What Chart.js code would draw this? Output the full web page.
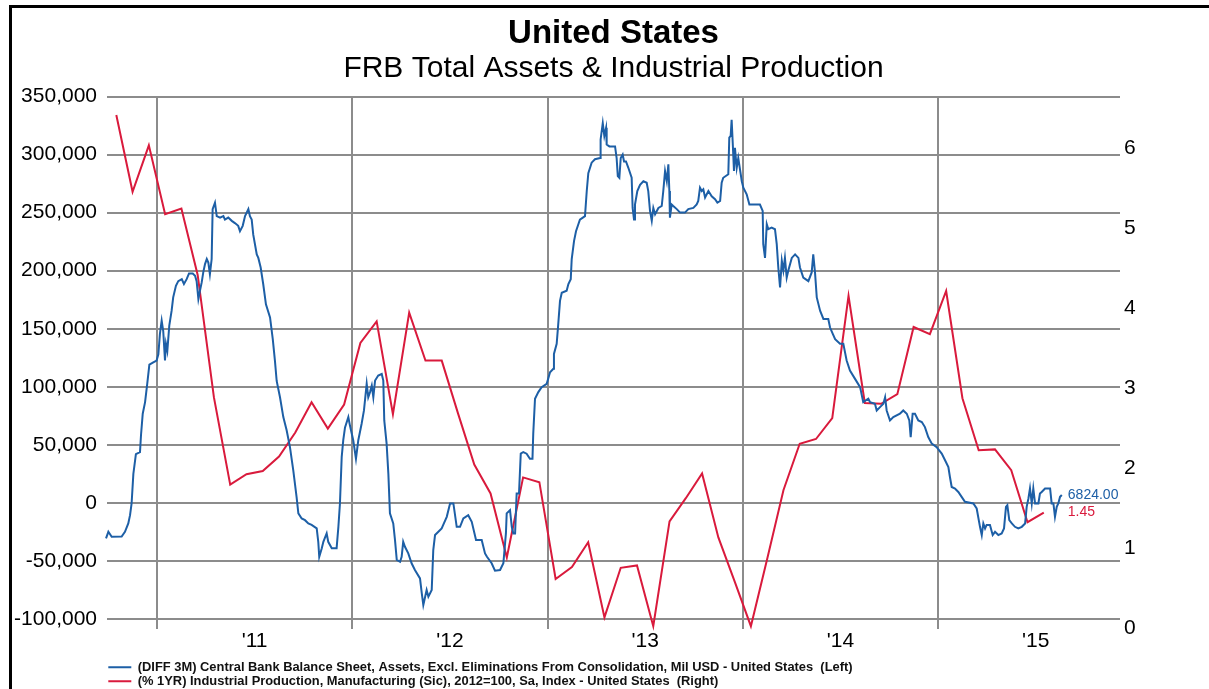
<!DOCTYPE html>
<html>
<head>
<meta charset="utf-8">
<script src="https://cdn.jsdelivr.net/npm/chart.js@4.4.1/dist/chart.umd.min.js"></script>
<style>
  html, body { margin: 0; padding: 0; background: #ffffff; }
  #wrap { position: relative; width: 1209px; height: 689px; overflow: hidden; }
  #c { position: absolute; left: 0; top: 0; }
  #frame { position: absolute; left: 9px; top: 5px; width: 1200px; height: 684px;
           border-left: 3px solid #000; border-top: 3px solid #000; pointer-events: none; }
</style>
</head>
<body>
<div id="wrap">
  <canvas id="c" width="1209" height="689"></canvas>
  <div id="frame"></div>
</div>
<script>
// ---------------- DATA ----------------
const titleText = 'United States';
const subtitleText = 'FRB Total Assets & Industrial Production';

const blueLabel = '(DIFF 3M) Central Bank Balance Sheet, Assets, Excl. Eliminations From Consolidation, Mil USD - United States  (Left)';
const redLabel = '(% 1YR) Industrial Production, Manufacturing (Sic), 2012=100, Sa, Index - United States  (Right)';

// weekly Fed balance sheet 3M change (decimal-year dates, USD mil)
const blueDates = [
2010.739,2010.751,2010.768,2010.819,2010.836,2010.853,2010.862,2010.870,2010.879,2010.892,
2010.913,2010.918,2010.927,2010.939,2010.950,2010.961,2010.981,2010.998,2011.007,2011.015,
2011.024,2011.032,2011.041,2011.046,2011.053,2011.063,2011.075,2011.083,2011.097,2011.109,
2011.127,2011.138,2011.152,2011.164,2011.183,2011.195,2011.203,2011.212,2011.220,2011.229,
2011.237,2011.246,2011.255,2011.263,2011.271,2011.280,2011.285,2011.297,2011.306,2011.323,
2011.340,2011.348,2011.365,2011.383,2011.399,2011.416,2011.425,2011.439,2011.451,2011.468,
2011.476,2011.485,2011.493,2011.511,2011.519,2011.531,2011.544,2011.558,2011.579,2011.593,
2011.604,2011.613,2011.630,2011.647,2011.664,2011.681,2011.698,2011.715,2011.724,2011.741,
2011.758,2011.775,2011.792,2011.818,2011.826,2011.831,2011.844,2011.852,2011.869,2011.877,
2011.895,2011.920,2011.929,2011.937,2011.946,2011.954,2011.963,2011.980,2011.988,2012.005,
2012.019,2012.031,2012.048,2012.060,2012.074,2012.082,2012.091,2012.100,2012.108,2012.117,
2012.133,2012.151,2012.159,2012.164,2012.176,2012.185,2012.193,2012.210,2012.219,2012.228,
2012.245,2012.253,2012.261,2012.270,2012.287,2012.304,2012.321,2012.347,2012.356,2012.364,
2012.381,2012.390,2012.407,2012.415,2012.424,2012.441,2012.458,2012.466,2012.484,2012.501,
2012.518,2012.535,2012.552,2012.569,2012.594,2012.612,2012.634,2012.663,2012.680,2012.690,
2012.714,2012.731,2012.757,2012.774,2012.787,2012.791,2012.808,2012.817,2012.825,2012.834,
2012.842,2012.854,2012.863,2012.876,2012.893,2012.910,2012.923,2012.927,2012.936,2012.953,
2012.970,2012.996,2013.013,2013.030,2013.033,2013.047,2013.055,2013.064,2013.073,2013.098,
2013.107,2013.119,2013.124,2013.136,2013.146,2013.158,2013.166,2013.192,2013.201,2013.209,
2013.226,2013.243,2013.269,2013.272,2013.283,2013.291,2013.300,2013.303,2013.317,2013.346,
2013.354,2013.360,2013.368,2013.375,2013.385,2013.392,2013.402,2013.414,2013.431,2013.436,
2013.443,2013.448,2013.460,2013.474,2013.491,2013.508,2013.516,2013.525,2013.534,2013.542,
2013.551,2013.568,2013.585,2013.593,2013.602,2013.611,2013.619,2013.624,2013.627,2013.636,
2013.644,2013.662,2013.679,2013.704,2013.721,2013.747,2013.764,2013.772,2013.781,2013.790,
2013.798,2013.807,2013.824,2013.841,2013.858,2013.870,2013.884,2013.892,2013.900,2013.926,
2013.931,2013.938,2013.943,2013.949,2013.955,2013.960,2013.969,2013.977,2013.986,2013.995,
2014.003,2014.020,2014.034,2014.088,2014.102,2014.105,2014.114,2014.123,2014.131,2014.148,
2014.165,2014.174,2014.182,2014.191,2014.200,2014.208,2014.216,2014.225,2014.233,2014.251,
2014.268,2014.285,2014.293,2014.310,2014.336,2014.353,2014.361,2014.370,2014.379,2014.396,
2014.413,2014.438,2014.447,2014.461,2014.473,2014.498,2014.515,2014.532,2014.549,2014.575,
2014.601,2014.617,2014.643,2014.652,2014.677,2014.686,2014.703,2014.720,2014.729,2014.737,
2014.754,2014.771,2014.805,2014.822,2014.840,2014.853,2014.860,2014.870,2014.882,2014.899,
2014.917,2014.933,2014.950,2014.968,2014.993,2015.019,2015.036,2015.053,2015.061,2015.070,
2015.087,2015.104,2015.121,2015.138,2015.181,2015.198,2015.215,2015.224,2015.232,2015.241,
2015.249,2015.266,2015.280,2015.292,2015.309,2015.326,2015.338,2015.348,2015.355,2015.365,
2015.378,2015.394,2015.411,2015.429,2015.446,2015.454,2015.463,2015.471,2015.480,2015.488,
2015.497,2015.514,2015.522,2015.531,2015.548,2015.574,2015.582,2015.591,2015.599,2015.608,
2015.616,2015.625,2015.634
];
const blueValues = [
-30600,-24900,-29200,-29000,-24900,-17700,-10600,-500,25000,42000,
43800,58000,76800,86800,102600,119000,121000,122600,128000,145500,
157000,148000,122600,137000,131000,152600,165500,177000,187000,191000,
192700,188500,192700,197600,197600,195600,191000,175600,182700,189900,
198500,205700,210000,207000,197000,210000,253000,258600,247000,245700,
247000,244000,245700,242900,241000,238600,234000,238600,247000,253000,
247000,244000,231000,214000,211000,202700,188500,171000,159800,141000,
122600,105000,91000,73900,62500,48000,28000,5000,-9000,-13400,
-14900,-17700,-19000,-22000,-33500,-46400,-39000,-33500,-26300,-33500,
-39000,-39000,-20600,-500,39500,54000,65000,73900,66800,54000,
38000,54000,68200,79600,102600,91000,95400,101000,91000,105400,
109700,111000,105400,71000,51000,25000,-9000,-17700,-32000,-49000,
-50700,-46400,-33500,-37800,-43500,-52000,-57800,-65000,-77800,-87900,
-75000,-80800,-75000,-40600,-27700,-24900,-22000,-19000,-12000,-500,
-500,-20600,-20600,-13400,-10600,-16300,-32000,-32000,-43500,-46400,
-52000,-58400,-57800,-52000,-26300,-9000,-6300,-20600,-26300,-26300,
8000,8000,42400,43800,42400,38000,38000,59600,89700,95400,
99700,102600,112500,115500,128300,137000,154000,174000,181000,182700,
188500,192700,210000,225700,234000,240000,244000,247000,268600,284000,
293000,296000,297000,313000,327000,316000,323000,308700,307000,307000,
297000,281500,280000,297000,300000,294000,294000,288600,280000,254000,
244000,257000,268600,274000,277000,275700,268600,251500,243000,254000,
248600,254000,255700,268600,285700,277000,291600,268600,245700,257000,
255700,253000,250000,250000,253000,254000,257000,260000,271500,268600,
270000,263000,268600,264000,261500,258600,260000,275700,280000,283000,
314500,316000,330000,308700,285800,305800,288600,297000,287000,277000,
271500,265800,257000,257000,251500,222800,211000,240000,235700,237000,
235700,222800,202700,185500,208500,200000,211000,194000,200000,211000,
214000,211000,202700,194000,191000,198500,214000,198500,177000,165500,
158400,158400,151000,145500,141000,137000,137000,122600,114000,106800,
99700,86800,89700,86800,85400,79600,82500,85400,91000,79600,
71000,73900,76800,79600,76800,71000,56700,76800,76800,71000,
69600,65300,56700,51000,48000,42400,36700,30900,22300,13700,
12400,9400,5200,900,-500,-4800,-20600,-27700,-17700,-22000,
-19000,-19000,-27700,-24900,-27700,-26300,-22000,-3400,-2000,-14900,
-17700,-20600,-22000,-20600,-17700,-3400,3800,12400,-500,12400,
-500,-500,8000,9400,12400,12400,-500,-500,-12000,-3400,
-500,5200,6824
];

// monthly industrial production, manufacturing, % 1YR
const redMonths = [
'2010-10','2010-11','2010-12',
'2011-01','2011-02','2011-03','2011-04','2011-05','2011-06','2011-07','2011-08','2011-09','2011-10','2011-11','2011-12',
'2012-01','2012-02','2012-03','2012-04','2012-05','2012-06','2012-07','2012-08','2012-09','2012-10','2012-11','2012-12',
'2013-01','2013-02','2013-03','2013-04','2013-05','2013-06','2013-07','2013-08','2013-09','2013-10','2013-11','2013-12',
'2014-01','2014-02','2014-03','2014-04','2014-05','2014-06','2014-07','2014-08','2014-09','2014-10','2014-11','2014-12',
'2015-01','2015-02','2015-03','2015-04','2015-05','2015-06','2015-07'
];
const redValues = [
6.42,5.46,6.04,
5.18,5.25,4.42,2.89,1.80,1.93,1.97,2.15,2.45,2.83,2.50,2.80,
3.57,3.84,2.68,3.95,3.35,3.35,2.69,2.05,1.69,0.89,1.89,1.83,
0.62,0.77,1.08,0.14,0.76,0.79,0.03,1.34,1.63,1.94,1.14,0.59,
0.03,0.87,1.73,2.31,2.37,2.63,4.16,2.82,2.81,2.93,3.77,3.68,
4.22,2.88,2.23,2.24,1.98,1.33,1.45
];

// axes
const leftTicks = [-100000,-50000,0,50000,100000,150000,200000,250000,300000,350000];
const rightTicks = [0,1,2,3,4,5,6];
const yearGridlines = [2011,2012,2013,2014,2015];
const yearLabelPositions = [2011.5,2012.5,2013.5,2014.5,2015.5];
const yearLabels = ["'11","'12","'13","'14","'15"];

// ---------------- STYLE ----------------
const BLUE = '#1d5fa6';
const RED = '#d91a3c';
const GRID = '#8c8c8c';
const FONT = '"Liberation Sans", Arial, Helvetica, sans-serif';

const X_MIN = 2010.744, X_MAX = 2015.932;
const L_MIN = -108612, L_MAX = 350000;
const R_MIN = -0.005, R_MAX = 6.651;

Chart.defaults.font.family = FONT;
Chart.defaults.color = '#000';

const monthToYear = s => { const [y, m] = s.split('-').map(Number); return y + (m - 0.5) / 12; };

const blueData = blueDates.map((t, i) => ({ x: t, y: blueValues[i] }));
const redData = redMonths.map((s, i) => ({ x: monthToYear(s), y: redValues[i] }));

const endLabels = {
  id: 'endLabels',
  afterDatasetsDraw(chart) {
    const ctx = chart.ctx;
    const pts = chart.data.datasets.map((d, i) => {
      const m = chart.getDatasetMeta(i);
      return m.data[m.data.length - 1];
    });
    const x = Math.max(...pts.map(p => p.x)) + 6;
    ctx.save();
    ctx.font = '14px ' + FONT;
    ctx.textBaseline = 'middle';
    ctx.textAlign = 'left';
    chart.data.datasets.forEach((d, i) => {
      const last = d.data[d.data.length - 1];
      ctx.fillStyle = d.borderColor;
      ctx.fillText(last.y.toFixed(2), x, pts[i].y);
    });
    ctx.restore();
  }
};

new Chart(document.getElementById('c'), {
  type: 'line',
  data: {
    datasets: [
      { label: blueLabel, data: blueData, borderColor: BLUE, backgroundColor: BLUE,
        borderWidth: 2, pointRadius: 0, tension: 0, xAxisID: 'x', yAxisID: 'y', clip: false },
      { label: redLabel, data: redData, borderColor: RED, backgroundColor: RED,
        borderWidth: 2, pointRadius: 0, tension: 0, xAxisID: 'x', yAxisID: 'y2', clip: false }
    ]
  },
  options: {
    responsive: false,
    animation: false,
    devicePixelRatio: 1,
    layout: { padding: { top: 0, left: 0, right: 0, bottom: 0 } },
    plugins: {
      tooltip: { enabled: false },
      title: {
        display: true, text: titleText, fullSize: false, color: '#000',
        font: { size: 33, weight: 'bold', lineHeight: 1.2 },
        padding: { top: 14, bottom: 0 }
      },
      subtitle: {
        display: true, text: subtitleText, fullSize: false, color: '#000',
        font: { size: 30, weight: 'normal', lineHeight: 1.0 },
        padding: { top: 0.5, bottom: 12.4 }
      },
      legend: {
        display: true, position: 'bottom', align: 'start', fullSize: false, maxHeight: 29.6,
        labels: {
          usePointStyle: true, pointStyle: 'line', pointStyleWidth: 23,
          padding: 1.3, color: '#111',
          font: { size: 12.9, weight: 'bold' }
        }
      }
    },
    scales: {
      x: {
        type: 'linear', position: 'bottom', min: X_MIN, max: X_MAX,
        afterBuildTicks: ax => { ax.ticks = yearGridlines.map(v => ({ value: v })); },
        ticks: { display: false },
        grid: { color: GRID, lineWidth: 2, drawTicks: false },
        border: { display: false },
        afterFit: s => { s.height = 0; }
      },
      x2: {
        type: 'linear', position: 'bottom', min: X_MIN, max: X_MAX,
        afterBuildTicks: ax => { ax.ticks = yearLabelPositions.map(v => ({ value: v })); },
        ticks: { autoSkip: false, maxRotation: 0, padding: 0, color: '#000',
                 font: { size: 21 }, callback: (v, i) => yearLabels[i] },
        grid: { display: false, drawTicks: false },
        border: { display: false },
        afterFit: s => { s.height = 30.4; }
      },
      y: {
        type: 'linear', position: 'left', min: L_MIN, max: L_MAX,
        afterBuildTicks: ax => { ax.ticks = leftTicks.map(v => ({ value: v })); },
        ticks: { padding: 10, color: '#000', font: { size: 21 },
                 callback: v => v.toLocaleString('en-US') },
        grid: { color: GRID, lineWidth: 2, drawTicks: false },
        border: { display: false },
        afterFit: s => { s.width = 107; }
      },
      y2: {
        type: 'linear', position: 'right', min: R_MIN, max: R_MAX,
        afterBuildTicks: ax => { ax.ticks = rightTicks.map(v => ({ value: v })); },
        ticks: { padding: 4, color: '#000', font: { size: 21 }, callback: v => String(v) },
        grid: { drawOnChartArea: false, drawTicks: false },
        border: { display: false },
        afterFit: s => { s.width = 89; }
      }
    }
  },
  plugins: [endLabels]
});
</script>
</body>
</html>
